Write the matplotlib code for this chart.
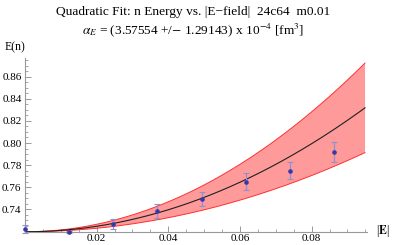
import numpy as np
import matplotlib
matplotlib.use("Agg")
import matplotlib.pyplot as plt
from matplotlib.ticker import MultipleLocator

plt.rcParams['font.family'] = ['Liberation Serif', 'DejaVu Serif']
plt.rcParams['mathtext.fontset'] = 'stix'

# data
field = [0.0, 0.01232, 0.02464, 0.03696, 0.04928, 0.0616, 0.07392, 0.08624]
energy = [0.7224, 0.7196, 0.7266, 0.7385, 0.7496, 0.7651, 0.7751, 0.7916]
err = [0.0035, 0.0012, 0.0045, 0.006, 0.0064, 0.0077, 0.0076, 0.009]

# quadratic fit coefficients: E(x) = E0 + a x^2, a +/- da
E0 = 0.7197
a = 12.45
da = 4.5
x_end = 0.0949

title1 = "Quadratic Fit: n Energy vs. |E\u2212field|  24c64  m0.01"
title2 = r"$\alpha_E$ = (3.57554 +/$-$ 1.29143) x 10$^{-4}$ [fm$^3$]"

fig = plt.figure(figsize=(3.95, 2.45), dpi=100)
ax = fig.add_axes([25/395, 1-232/245, (367-25)/395, (232-58)/245])

xs = np.linspace(0, x_end, 200)
upper = E0 + (a + da) * xs**2
lower = E0 + (a - da) * xs**2
mid = E0 + a * xs**2
ax.fill_between(xs, lower, upper, facecolor='#ff9a9a', edgecolor='none', zorder=1)
ax.plot(xs, upper, color='#ff3030', lw=0.7, zorder=2)
ax.plot(xs, lower, color='#ff3030', lw=0.7, zorder=2)
ax.plot(xs, mid, color='#202020', lw=0.8, zorder=3)

ax.errorbar(field, energy, yerr=err, fmt='o', ms=2.3, color='#3838a8',
            ecolor='#9090cc', elinewidth=0.9, capsize=2.5, capthick=0.8, zorder=4,
            clip_on=False)

ax.set_xlim(0, 0.09545)
ax.set_ylim(0.7195, 0.8769)

for s in ['top', 'right']:
    ax.spines[s].set_visible(False)
for s in ['left', 'bottom']:
    ax.spines[s].set_color('#999999')
    ax.spines[s].set_linewidth(0.8)

ax.xaxis.set_major_locator(MultipleLocator(0.02))
ax.xaxis.set_minor_locator(MultipleLocator(0.005))
ax.set_yticks([0.74, 0.76, 0.78, 0.80, 0.82, 0.84, 0.86])
ax.yaxis.set_minor_locator(MultipleLocator(0.005))
ax.set_xticks([0.02, 0.04, 0.06, 0.08])
ax.set_xticklabels(['0.02', '0.04', '0.06', '0.08'])
ax.set_yticklabels(['0.74', '0.76', '0.78', '0.80', '0.82', '0.84', '0.86'])
ax.tick_params(which='both', direction='in', color='#999999', labelsize=8)
ax.tick_params(axis='x', pad=1.5)
ax.tick_params(axis='y', pad=2.5)
ax.tick_params(which='major', length=4, width=0.7)
ax.tick_params(which='minor', length=2, width=0.6)

fig.text(0.49, 1-12/245, title1, ha='center', va='center', fontsize=9.6)
fig.text(0.49, 1-30/245, title2, ha='center', va='center', fontsize=9.6)
fig.text(5/395, 1-47/245, 'E(n)', ha='left', va='center', fontsize=8.5)
fig.text(376/395, 1-231/245, r'|$\mathbf{E}$|', ha='left', va='center', fontsize=8.5)

fig.savefig('out.png', dpi=100)
